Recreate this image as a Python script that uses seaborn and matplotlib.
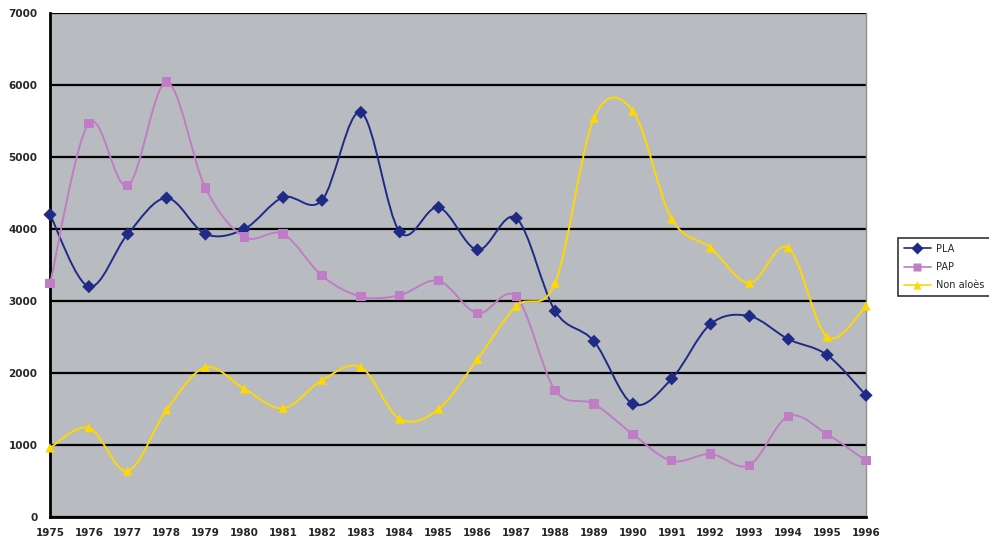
import numpy as np
import pandas as pd
import matplotlib
matplotlib.use("Agg")
import matplotlib.pyplot as plt
import seaborn as sns
from matplotlib.path import Path
from matplotlib.patches import PathPatch
from matplotlib.lines import Line2D

# data
years = list(range(1975, 1997))
pla = [4200, 3200, 3930, 4430, 3930, 4000, 4440, 4400, 5620, 3960, 4300,
       3710, 4150, 2860, 2440, 1570, 1920, 2680, 2790, 2470, 2250, 1690]
pap = [3240, 5470, 4600, 6040, 4570, 3890, 3930, 3350, 3060, 3080, 3280,
       2830, 3060, 1760, 1570, 1150, 780, 875, 720, 1400, 1150, 780]
non_aloes = [960, 1240, 640, 1490, 2080, 1780, 1510, 1900, 2080, 1360, 1500,
             2190, 2930, 3250, 5540, 5640, 4140, 3740, 3250, 3740, 2500, 2930]

series_names = ["PLA", "PAP", "Non aloès"]
colors = ["#1F2A86", "#C07CC4", "#FFD800"]
markers = ["D", "s", "^"]

df = pd.DataFrame({"year": years, "PLA": pla, "PAP": pap, "Non aloès": non_aloes})
long = df.melt(id_vars="year", var_name="serie", value_name="val")


def smooth_path(x, y):
    # Excel-like smoothed line: cubic bezier segments through the points
    pts = np.column_stack([x, y]).astype(float)
    n = len(pts)
    verts = [pts[0]]
    codes = [Path.MOVETO]
    for i in range(n - 1):
        p0 = pts[i - 1] if i > 0 else pts[i]
        p1 = pts[i]
        p2 = pts[i + 1]
        p3 = pts[i + 2] if i + 2 < n else pts[i + 1]
        c1 = p1 + (p2 - p0) / 6.0
        c2 = p2 - (p3 - p1) / 6.0
        verts += [c1, c2, p2]
        codes += [Path.CURVE4] * 3
    return Path(verts, codes)


sns.set_style("white")
fig = plt.figure(figsize=(9.89, 5.42), dpi=100)
ax = fig.add_axes([50 / 989, 25 / 542, 816 / 989, 504 / 542])
ax.set_facecolor("#B8BCC0")

for name, col in zip(series_names, colors):
    ax.add_patch(PathPatch(smooth_path(df["year"], df[name]), facecolor="none",
                           edgecolor=col, lw=1.4, zorder=3))

sns.scatterplot(data=long, x="year", y="val", hue="serie", style="serie",
                palette=dict(zip(series_names, colors)),
                markers=dict(zip(series_names, markers)),
                s=45, edgecolor="none", legend=False, ax=ax, zorder=4,
                clip_on=False)

ax.set_xlim(1975, 1996)
ax.set_ylim(0, 7000)
ax.set_xticks(years)
ax.set_xticklabels([str(y) for y in years])
ax.set_yticks(range(0, 7001, 1000))
ax.set_xlabel("")
ax.set_ylabel("")
ax.yaxis.grid(True, color="black", lw=1.6)
ax.set_axisbelow(True)
ax.spines["top"].set_visible(False)
ax.spines["right"].set_color("#909090")
ax.spines["right"].set_linewidth(1.0)
ax.spines["left"].set_linewidth(2.0)
ax.spines["bottom"].set_linewidth(2.0)
ax.spines["left"].set_color("black")
ax.spines["bottom"].set_color("black")
ax.tick_params(axis="both", direction="out", length=5, width=1.5, color="black",
               labelsize=7.5, pad=4)
ax.tick_params(axis="x", pad=3)
for lab in ax.get_xticklabels() + ax.get_yticklabels():
    lab.set_fontweight("bold")

handles = [Line2D([0], [0], color=c, lw=1.2, marker=m, markersize=6,
                  markeredgecolor="none") for c, m in zip(colors, markers)]
leg = fig.legend(handles, series_names, loc="upper left",
                 bbox_to_anchor=(893 / 989, 1 - 233 / 542), fontsize=7,
                 frameon=True, fancybox=False, borderpad=0.6,
                 handlelength=2.8, labelspacing=0.85, handletextpad=0.5)
leg.get_frame().set_edgecolor("black")
leg.get_frame().set_linewidth(1.2)

fig.savefig("out.png", dpi=100, facecolor="white")
